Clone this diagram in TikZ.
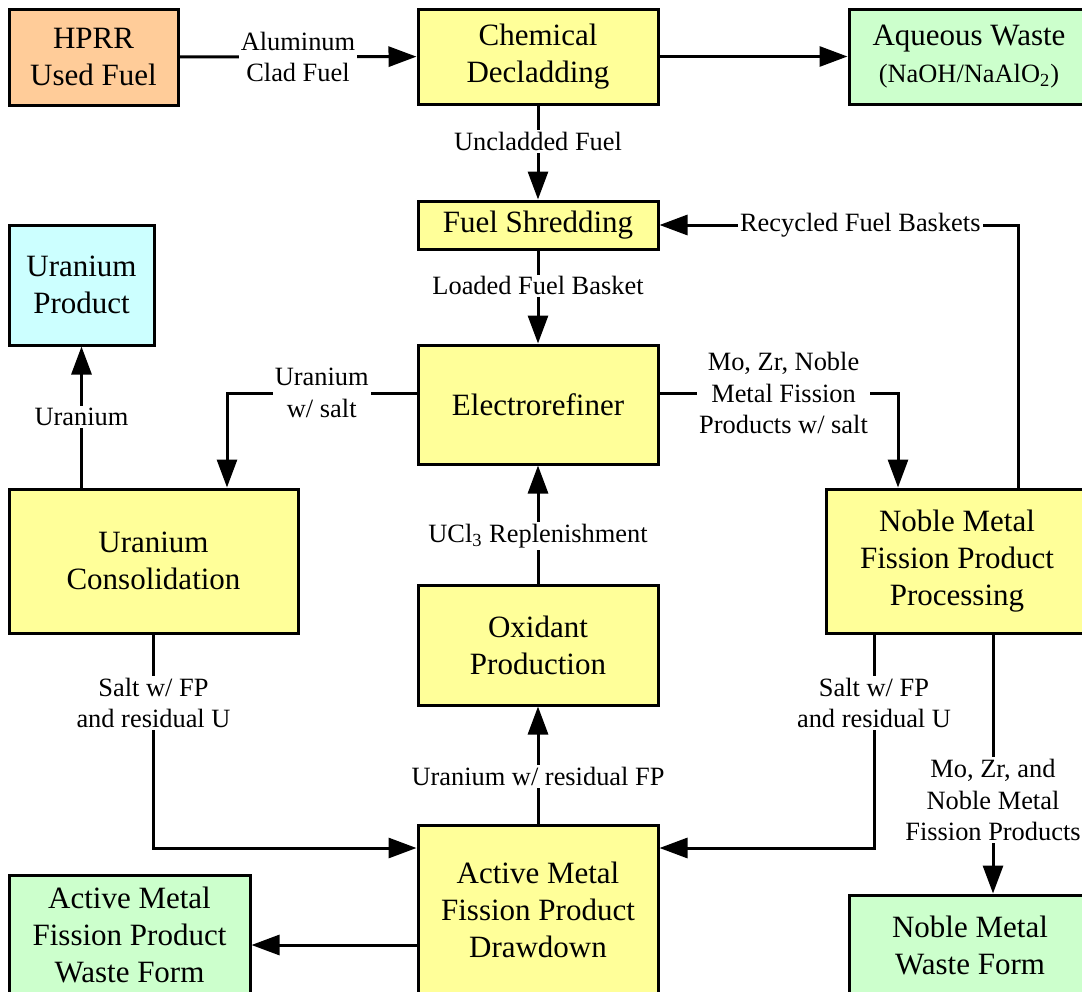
\documentclass[tikz,border=0pt]{standalone}
\usepackage{fontspec}
\setmainfont{Liberation Serif}
\usepackage{tikz}
\usetikzlibrary{arrows.meta}

\definecolor{feedorange}{HTML}{FFCC99}
\definecolor{procyellow}{HTML}{FFFF99}
\definecolor{wastegreen}{HTML}{CCFFCC}
\definecolor{prodcyan}{HTML}{CCFFFF}

\tikzset{
  procbox/.style={draw, line width=1.5pt, fill=procyellow, align=center, inner sep=0pt,
    font=\fontsize{15.5}{18.5}\selectfont},
  labeltxt/.style={fill=white, align=center, inner sep=1pt,
    font=\fontsize{13.2}{15.8}\selectfont},
  flow/.style={line width=1.5pt, -{Triangle[length=14pt,width=10pt]}}
}

\begin{document}
\begin{tikzpicture}[x=0.5pt, y=-0.5pt]
    % Frame of the picture
    \clip (0,0) rectangle (1082,991);
    \fill[white] (0,0) rectangle (1082,991);

    % Process boxes
    \node[procbox, fill=feedorange, minimum width=84.5pt, minimum height=48pt] (hprr) at (93.5,57) {HPRR\\Used Fuel};
    \node[procbox, minimum width=120pt, minimum height=47.5pt] (decladding) at (538,56.5) {Chemical\\Decladding};
    \node[procbox, fill=wastegreen, minimum width=120pt, minimum height=47.5pt] (aqueous) at (969,56.5) {Aqueous Waste\\{\fontsize{13.2}{15.8}\selectfont (NaOH/NaAlO\textsubscript{2})}};
    \node[procbox, minimum width=120pt, minimum height=24pt] (shredding) at (538,225) {Fuel Shredding};
    \node[procbox, fill=prodcyan, minimum width=72.5pt, minimum height=60pt] (uprod) at (81.5,285) {Uranium\\Product};
    \node[procbox, minimum width=120pt, minimum height=59.5pt] (erefiner) at (538,404.5) {Electrorefiner};
    \node[procbox, minimum width=144.5pt, minimum height=72pt] (ucons) at (153.5,561) {Uranium\\Consolidation};
    \node[procbox, minimum width=131pt, minimum height=72pt] (noble) at (957,561) {Noble Metal\\Fission Product\\Processing};
    \node[procbox, minimum width=120pt, minimum height=60pt] (oxidant) at (538,645) {Oxidant\\Production};
    \node[procbox, minimum width=120pt, minimum height=85pt] (drawdown) at (538,910) {Active Metal\\Fission Product\\Drawdown};
    \node[procbox, fill=wastegreen, minimum width=120.5pt, minimum height=60pt] (amwaste) at (129.5,935) {Active Metal\\Fission Product\\Waste Form};
    \node[procbox, fill=wastegreen, minimum width=121pt, minimum height=50pt] (nmwaste) at (970,945) {Noble Metal\\Waste Form};

    % Main line down the middle
    \draw[flow] (hprr) -- node[labeltxt] {Aluminum\\Clad Fuel} (decladding);
    \draw[flow] (decladding) -- (aqueous);
    \draw[flow] (decladding) -- node[labeltxt, pos=0.38] {Uncladded Fuel} (shredding);
    \draw[flow] (shredding) -- node[labeltxt, pos=0.38] {Loaded Fuel Basket} (erefiner);
    \draw[flow] (oxidant) -- node[labeltxt, pos=0.4] {UCl\textsubscript{3} Replenishment} (erefiner);
    \draw[flow] (drawdown) -- node[labeltxt, pos=0.4] {Uranium w/ residual FP} (oxidant);

    % Branches out of the electrorefiner
    \draw[flow] ([yshift=5.75pt]erefiner.west) -| node[labeltxt, pos=0.25] {Uranium\\w/ salt} ([xshift=36.75pt]ucons.north);
    \draw[flow] ([yshift=5.75pt]erefiner.east) -| node[labeltxt, pos=0.26] {Mo, Zr, Noble\\Metal Fission\\Products w/ salt} ([xshift=-29.5pt]noble.north);
    \draw[flow] (uprod.south |- ucons.north) -- node[labeltxt] {Uranium} (uprod.south);

    % Recycle and salt returns
    \draw[flow] ([xshift=30.5pt]noble.north) |- node[labeltxt, pos=0.72] {Recycled Fuel Baskets} (shredding.east);
    \draw[flow] (ucons.south) |- node[labeltxt, pos=0.16] {Salt w/ FP\\and residual U} ([yshift=31pt]drawdown.west);
    \draw[flow] ([xshift=-41.5pt]noble.south) |- node[labeltxt, pos=0.16] {Salt w/ FP\\and residual U} ([yshift=31pt]drawdown.east);

    % Waste forms
    \draw[flow] ([xshift=18pt]noble.south) -- node[labeltxt, pos=0.64] {Mo, Zr, and\\Noble Metal\\Fission Products} ([xshift=18pt]noble.south |- nmwaste.north);
    \draw[flow] ([yshift=-17.5pt]drawdown.west) -- ([yshift=-17.5pt]drawdown.west -| amwaste.east);
\end{tikzpicture}
\end{document}
